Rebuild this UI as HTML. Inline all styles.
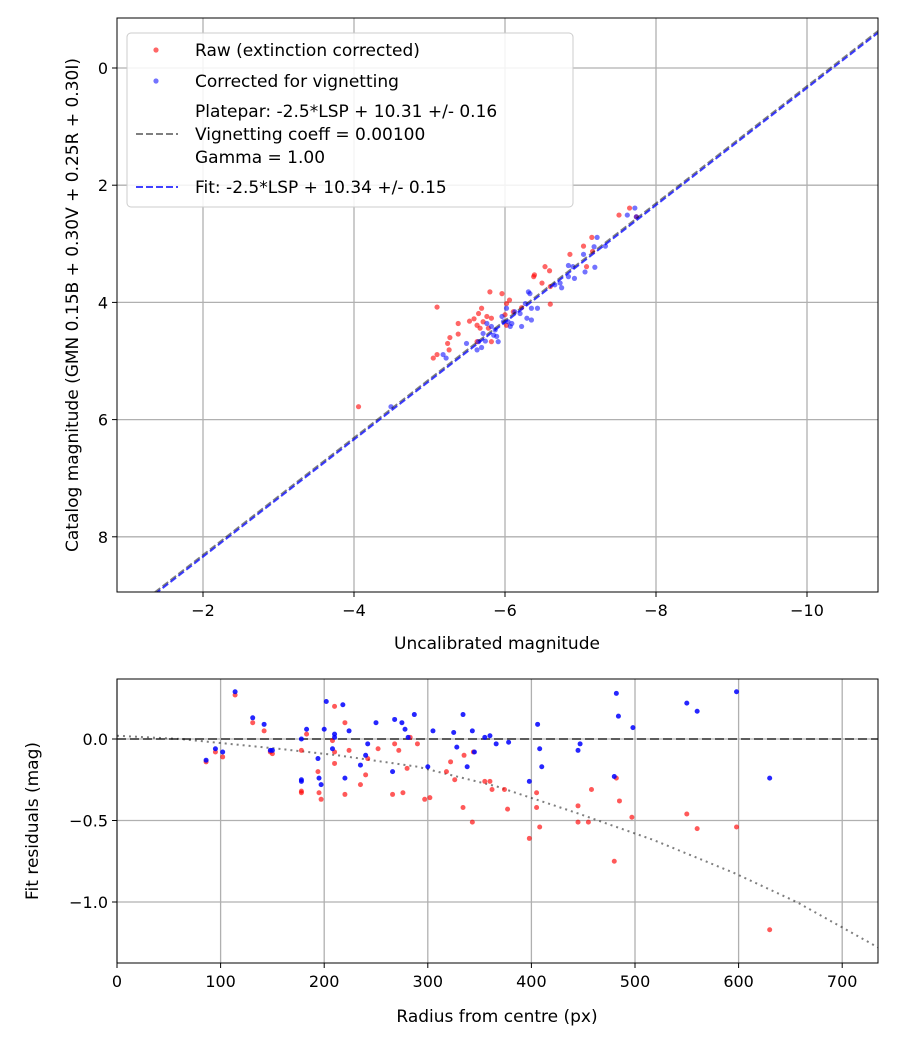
<!DOCTYPE html>
<html><head><meta charset="utf-8"><style>
body{margin:0;background:#fff}
svg{font-family:"DejaVu Sans","Liberation Sans",sans-serif}
</style></head><body>
<svg id="chart" width="900" height="1050" viewBox="0 0 900 1050" xmlns="http://www.w3.org/2000/svg">
<rect width="900" height="1050" fill="#fff"/>
<defs>
<clipPath id="ct"><rect x="117" y="18" width="761" height="574"/></clipPath>
<clipPath id="cb"><rect x="117" y="679" width="761" height="284"/></clipPath>
</defs>
<g id="topPanel"></g>
<g id="botPanel"></g>
</svg>
<script>
// ---- data: top panel (uncalibrated mag, catalog mag) ----
const rawX=[-4.06,-5.05,-5.10,-5.24,-5.26,-5.27,-5.38,-5.38,-5.10,-5.53,-5.59,-5.65,-5.69,-5.63,-5.67,-5.71,-5.76,-5.82,-5.78,-5.82,-5.63,-5.80,-5.96,-6.02,-6.06,-6.00,-6.02,-6.11,-6.22,-6.38,-6.39,-6.49,-6.60,-6.53,-6.59,-6.60,-6.86,-7.04,-7.08,-7.15,-7.16,-7.51,-7.65,-7.74];
const rawY=[5.78,4.95,4.89,4.70,4.81,4.60,4.54,4.36,4.08,4.32,4.28,4.19,4.10,4.39,4.44,4.33,4.24,4.27,4.44,4.67,4.67,3.82,3.85,4.02,3.96,4.21,4.39,4.16,4.09,3.56,3.53,3.67,3.73,3.39,3.46,4.03,3.18,3.04,3.39,2.89,3.13,2.51,2.39,2.54];
const corX=[-4.49,-5.18,-5.22,-5.49,-5.63,-5.69,-5.65,-5.74,-5.71,-5.76,-5.82,-5.85,-5.89,-5.91,-5.87,-5.96,-5.98,-6.02,-6.04,-6.07,-6.09,-6.13,-6.20,-6.22,-6.27,-6.31,-6.33,-6.35,-6.43,-6.29,-6.35,-6.66,-6.73,-6.75,-6.84,-6.84,-6.92,-6.90,-7.04,-7.06,-7.18,-7.19,-7.22,-7.33,-7.62,-7.72,-7.74];
const corY=[5.78,4.89,4.95,4.70,4.81,4.77,4.67,4.66,4.53,4.36,4.41,4.56,4.58,4.67,4.47,4.24,4.33,4.10,4.33,4.41,4.36,4.16,4.19,4.41,4.02,3.82,3.85,4.10,4.10,4.27,4.30,3.70,3.67,3.75,3.56,3.37,3.59,3.39,3.18,3.48,3.05,3.40,2.89,3.04,2.51,2.39,2.54];
const platepar=10.31, fitZero=10.34;
const topXTicks=[-2,-4,-6,-8,-10];
const topYTicks=[0,2,4,6,8];
// ---- data: bottom panel (radius, residual) ----
const resRawR=[86,95,102,114,131,142,148,150,178,178,178,183,194,195,197,208,210,210,210,220,220,224,235,240,242,252,266,268,272,276,280,283,290,297,302,318,322,326,334,335,343,344,355,360,362,374,377,398,405,405,408,445,445,455,458,480,482,485,497,550,560,598,630];
const resRawV=[-0.14,-0.08,-0.11,0.27,0.10,0.05,-0.08,-0.09,-0.07,-0.32,-0.33,0.03,-0.2,-0.33,-0.37,-0.01,0.2,-0.08,-0.15,0.1,-0.34,-0.07,-0.28,-0.22,-0.12,-0.06,-0.34,-0.03,-0.07,-0.33,-0.18,0.01,-0.03,-0.37,-0.36,-0.2,-0.14,-0.25,-0.42,-0.1,-0.51,-0.08,-0.26,-0.26,-0.31,-0.31,-0.43,-0.61,-0.33,-0.42,-0.54,-0.41,-0.51,-0.51,-0.31,-0.75,-0.24,-0.38,-0.48,-0.46,-0.55,-0.54,-1.17];
const resCorR=[86,95,102,114,131,142,148,150,178,178,178,183,194,195,197,200,202,208,210,210,218,220,224,235,240,242,250,266,268,275,278,281,287,300,305,325,328,334,338,343,345,355,360,366,378,398,406,408,410,445,447,480,482,484,498,550,560,598,630];
const resCorV=[-0.13,-0.06,-0.08,0.29,0.13,0.09,-0.07,-0.07,0.0,-0.25,-0.26,0.06,-0.12,-0.24,-0.28,0.06,0.23,-0.06,0.03,0.01,0.21,-0.24,0.05,-0.16,-0.1,-0.03,0.1,-0.2,0.12,0.1,0.06,0.01,0.15,-0.17,0.05,0.04,-0.05,0.15,-0.17,0.05,-0.08,0.01,0.02,-0.03,-0.02,-0.26,0.09,-0.06,-0.17,-0.07,-0.03,-0.23,0.28,0.14,0.07,0.22,0.17,0.29,-0.24];
const vigR=[0,61,156,213,290,366,442,518,595,656,735];
const vigV=[0.02,0.0,-0.06,-0.10,-0.17,-0.29,-0.45,-0.62,-0.82,-1.0,-1.28];
const botXTicks=[0,100,200,300,400,500,600,700];
const botYTicks=[0.0,-0.5,-1.0];
const botYLabels=["0.0","−0.5","−1.0"];

const NS="http://www.w3.org/2000/svg";
function mk(parent,tag,attrs,name,text){
  const e=document.createElementNS(NS,tag);
  for(const k in attrs)e.setAttribute(k,attrs[k]);
  
  
  if(text!==undefined)e.textContent=text;
  parent.appendChild(e);return e;
}
const T={l:117,r:878,t:18,b:592};
const tx=v=>203+(-v-2)*75.5;
const ty=v=>68+v*58.6;
const B={l:117,r:878,t:679,b:963};
const bx=v=>117+v*1.036;
const by=v=>739-v*163;
const gTop=document.getElementById('topPanel'), gBot=document.getElementById('botPanel');

topXTicks.forEach(v=>{const x=tx(v);
  mk(gTop,'line',{x1:x,x2:x,y1:T.t,y2:T.b,stroke:'#b0b0b0','stroke-width':1.3},'x-grid-line');
  mk(gTop,'line',{x1:x,x2:x,y1:T.b,y2:T.b+5,stroke:'#000','stroke-width':1},'x-tick');
  mk(gTop,'text',{x:x,y:T.b+24,'font-size':16,'text-anchor':'middle'},'x-tick-label',(v<0?'−':'')+Math.abs(v));});
topYTicks.forEach(v=>{const y=ty(v);
  mk(gTop,'line',{x1:T.l,x2:T.r,y1:y,y2:y,stroke:'#b0b0b0','stroke-width':1.3},'y-grid-line');
  mk(gTop,'line',{x1:T.l-5,x2:T.l,y1:y,y2:y,stroke:'#000','stroke-width':1},'y-tick');
  mk(gTop,'text',{x:T.l-9,y:y+6,'font-size':16,'text-anchor':'end'},'y-tick-label',String(v));});
const gt=mk(gTop,'g',{'clip-path':'url(#ct)'},'top-plot-area');
rawX.forEach((x,i)=>{mk(gt,'circle',{cx:tx(x),cy:ty(rawY[i]),r:2.6,fill:'red','fill-opacity':0.6},'raw-point');});
corX.forEach((x,i)=>{mk(gt,'circle',{cx:tx(x),cy:ty(corY[i]),r:2.6,fill:'blue','fill-opacity':0.55},'corrected-point');});
mk(gt,'line',{x1:tx(0),y1:ty(platepar),x2:tx(-12),y2:ty(platepar-12),stroke:'#000','stroke-opacity':0.5,'stroke-width':2,'stroke-dasharray':'7,3'},'platepar-line');
mk(gt,'line',{x1:tx(0),y1:ty(fitZero),x2:tx(-12),y2:ty(fitZero-12),stroke:'blue','stroke-opacity':0.75,'stroke-width':2,'stroke-dasharray':'7,3'},'fit-line');
mk(gTop,'rect',{x:T.l,y:T.t,width:T.r-T.l,height:T.b-T.t,fill:'none',stroke:'#000','stroke-width':1},'top-frame');
mk(gTop,'text',{x:497,y:649,'font-size':17,'text-anchor':'middle'},'x-axis-title','Uncalibrated magnitude');
mk(gTop,'text',{x:0,y:0,'font-size':17,'text-anchor':'middle',transform:'translate(78,305) rotate(-90)'},'y-axis-title','Catalog magnitude (GMN 0.15B + 0.30V + 0.25R + 0.30I)');
const lg=mk(gTop,'g',{},'legend');
mk(lg,'rect',{x:127,y:33,width:446,height:174,rx:4,fill:'#fff','fill-opacity':0.85,stroke:'#ccc'},'legend-box');
mk(lg,'circle',{cx:156,cy:50,r:2.6,fill:'red','fill-opacity':0.6},'legend-raw-marker');
mk(lg,'text',{x:195,y:56,'font-size':17},'legend-raw-label','Raw (extinction corrected)');
mk(lg,'circle',{cx:156,cy:81,r:2.6,fill:'blue','fill-opacity':0.55},'legend-corrected-marker');
mk(lg,'text',{x:195,y:87,'font-size':17},'legend-corrected-label','Corrected for vignetting');
mk(lg,'line',{x1:136,x2:178,y1:134,y2:134,stroke:'#000','stroke-opacity':0.5,'stroke-width':2,'stroke-dasharray':'7,3'},'legend-platepar-line');
mk(lg,'text',{x:195,y:117,'font-size':17},'legend-platepar-label','Platepar: -2.5*LSP + 10.31 +/- 0.16');
mk(lg,'text',{x:195,y:140,'font-size':17},'legend-vignetting-label','Vignetting coeff = 0.00100');
mk(lg,'text',{x:195,y:163,'font-size':17},'legend-gamma-label','Gamma = 1.00');
mk(lg,'line',{x1:136,x2:178,y1:187,y2:187,stroke:'blue','stroke-opacity':0.75,'stroke-width':2,'stroke-dasharray':'7,3'},'legend-fit-line');
mk(lg,'text',{x:195,y:193,'font-size':17},'legend-fit-label','Fit: -2.5*LSP + 10.34 +/- 0.15');

botXTicks.forEach(v=>{const x=bx(v);
  mk(gBot,'line',{x1:x,x2:x,y1:B.t,y2:B.b,stroke:'#b0b0b0','stroke-width':1.3},'x-grid-line');
  mk(gBot,'line',{x1:x,x2:x,y1:B.b,y2:B.b+5,stroke:'#000','stroke-width':1},'x-tick');
  mk(gBot,'text',{x:x,y:B.b+24,'font-size':16,'text-anchor':'middle'},'x-tick-label',String(v));});
botYTicks.forEach((v,i)=>{const y=by(v);
  mk(gBot,'line',{x1:B.l,x2:B.r,y1:y,y2:y,stroke:'#b0b0b0','stroke-width':1.3},'y-grid-line');
  mk(gBot,'line',{x1:B.l-5,x2:B.l,y1:y,y2:y,stroke:'#000','stroke-width':1},'y-tick');
  mk(gBot,'text',{x:B.l-9,y:y+6,'font-size':16,'text-anchor':'end'},'y-tick-label',botYLabels[i]);});
const gb=mk(gBot,'g',{'clip-path':'url(#cb)'},'bottom-plot-area');
mk(gb,'line',{x1:B.l,x2:B.r,y1:by(0),y2:by(0),stroke:'#000','stroke-opacity':0.55,'stroke-width':2,'stroke-dasharray':'9,4'},'zero-line');
mk(gb,'polyline',{points:vigR.map((r,i)=>bx(r)+','+by(vigV[i])).join(' '),fill:'none',stroke:'#000','stroke-opacity':0.5,'stroke-width':2,'stroke-dasharray':'2,4'},'vignetting-curve');
resRawR.forEach((r,i)=>{mk(gb,'circle',{cx:bx(r),cy:by(resRawV[i]),r:2.5,fill:'red','fill-opacity':0.65},'raw-residual-point');});
resCorR.forEach((r,i)=>{mk(gb,'circle',{cx:bx(r),cy:by(resCorV[i]),r:2.5,fill:'blue','fill-opacity':0.85},'corrected-residual-point');});
mk(gBot,'rect',{x:B.l,y:B.t,width:B.r-B.l,height:B.b-B.t,fill:'none',stroke:'#000','stroke-width':1},'bottom-frame');
mk(gBot,'text',{x:497,y:1022,'font-size':17,'text-anchor':'middle'},'x-axis-title','Radius from centre (px)');
mk(gBot,'text',{x:0,y:0,'font-size':17,'text-anchor':'middle',transform:'translate(38,821) rotate(-90)'},'y-axis-title','Fit residuals (mag)');
</script>
</body></html>
